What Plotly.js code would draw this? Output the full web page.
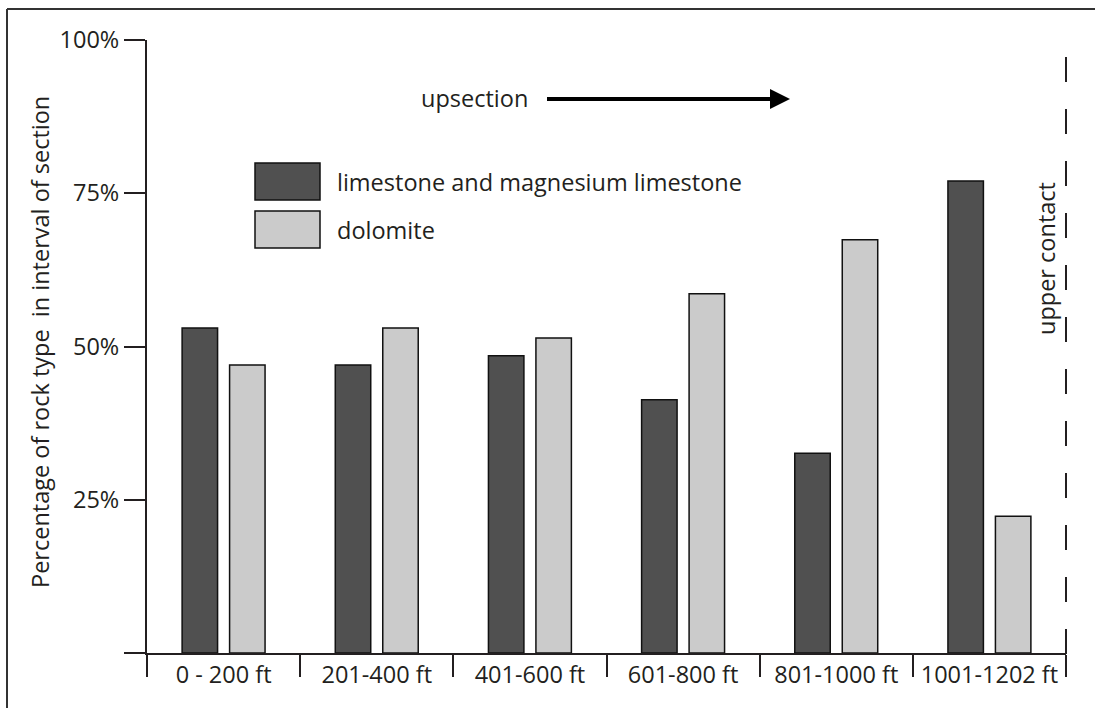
<!DOCTYPE html>
<html>
<head>
<meta charset="utf-8">
<script src="https://cdn.plot.ly/plotly-3.0.1.min.js"></script>
<style>html,body{margin:0;padding:0;background:#fff;}#chart{width:1095px;height:708px;}</style>
</head>
<body>
<div id="chart"></div>
<script>
// ---- data ----
var categories = ["0 - 200 ft", "201-400 ft", "401-600 ft", "601-800 ft", "801-1000 ft", "1001-1202 ft"];
var limestone = [53, 47, 48.5, 41.3, 32.6, 77];
var dolomite = [47, 53, 51.4, 58.6, 67.4, 22.3];
var yTickVals = [0, 25, 50, 75, 100];
var yTickText = ["", "25%", "50%", "75%", "100%"];
var seriesNames = ["limestone and magnesium limestone", "dolomite"];

var FONT = "Open Sans, Lato, sans-serif";
var FS = 23.5;
var INK = "#231f20";
var DARK = "#505050", LIGHT = "#cbcbcb";

// plot area in pixels
var L = 147, R = 1066, T = 40, B = 653;
function px(x) { return (x - L) / (R - L); }
function py(y) { return (B - y) / (B - T); }

var traces = [
  { type: "bar", name: seriesNames[0], x: categories, y: limestone,
    marker: { color: DARK, line: { color: "#111", width: 1.5 } }, hoverinfo: "x+y" },
  { type: "bar", name: seriesNames[1], x: categories, y: dolomite,
    marker: { color: LIGHT, line: { color: "#111", width: 1.5 } }, hoverinfo: "x+y" }
];

var shapes = [
  // outer frame (left and top edges)
  { type: "line", xref: "paper", yref: "paper", x0: px(7), y0: py(9), x1: px(7), y1: py(720), line: { color: "#333", width: 2 } },
  { type: "line", xref: "paper", yref: "paper", x0: px(7), y0: py(9), x1: px(1100), y1: py(9), line: { color: "#333", width: 2 } },
  // upper contact dashed line
  { type: "line", xref: "paper", yref: "paper", x0: 1, y0: py(57), x1: 1, y1: py(654), line: { color: INK, width: 2, dash: "25px,27px" } },
  // legend swatches
  { type: "rect", xref: "paper", yref: "paper", x0: px(255), y0: py(163), x1: px(320), y1: py(200), fillcolor: DARK, line: { color: "#111", width: 1.5 } },
  { type: "rect", xref: "paper", yref: "paper", x0: px(255), y0: py(211), x1: px(320), y1: py(248), fillcolor: LIGHT, line: { color: "#111", width: 1.5 } },
  // upsection arrow
  { type: "line", xref: "paper", yref: "paper", x0: px(547), y0: py(99), x1: px(773), y1: py(99), line: { color: "#000", width: 4 } },
  { type: "path", xref: "paper", yref: "paper",
    path: "M " + px(770) + " " + py(89) + " L " + px(790) + " " + py(99) + " L " + px(770) + " " + py(109) + " Z",
    fillcolor: "#000", line: { color: "#000", width: 0 } }
];

var annotations = [
  { xref: "paper", yref: "paper", x: px(40), y: py(342), text: "Percentage of rock type&nbsp; in interval of section",
    textangle: -90, showarrow: false, font: { family: FONT, size: FS, color: INK }, xanchor: "center", yanchor: "middle" },
  { xref: "paper", yref: "paper", x: px(419), y: py(98), text: "upsection", showarrow: false,
    font: { family: FONT, size: FS, color: INK }, xanchor: "left", yanchor: "middle" },
  { xref: "paper", yref: "paper", x: px(335), y: py(182), text: seriesNames[0], showarrow: false,
    font: { family: FONT, size: FS, color: INK }, xanchor: "left", yanchor: "middle" },
  { xref: "paper", yref: "paper", x: px(335), y: py(230), text: seriesNames[1], showarrow: false,
    font: { family: FONT, size: FS, color: INK }, xanchor: "left", yanchor: "middle" },
  { xref: "paper", yref: "paper", x: px(1046), y: py(259), text: "upper contact", textangle: -90, showarrow: false,
    font: { family: FONT, size: FS, color: INK }, xanchor: "center", yanchor: "middle" }
];

var layout = {
  width: 1095, height: 708,
  margin: { l: L, r: 1095 - R, t: T, b: 708 - B, pad: 0 },
  paper_bgcolor: "#fff", plot_bgcolor: "#fff",
  showlegend: false,
  barmode: "group", bargap: 0.38, bargroupgap: 0.253,
  font: { family: FONT, color: INK, size: FS },
  xaxis: {
    type: "category", range: [-0.5, 5.5], fixedrange: true,
    showline: true, linecolor: INK, linewidth: 2,
    ticks: "outside", tickson: "boundaries", ticklen: 22, tickwidth: 2, tickcolor: INK,
    showgrid: false, zeroline: false,
    tickfont: { family: FONT, size: FS, color: INK }
  },
  yaxis: {
    range: [0, 100], fixedrange: true,
    showline: true, linecolor: INK, linewidth: 2,
    ticks: "outside", ticklen: 21, tickwidth: 2, tickcolor: INK,
    tickvals: yTickVals, ticktext: yTickText,
    showgrid: false, zeroline: false,
    tickfont: { family: FONT, size: FS, color: INK }
  },
  shapes: shapes,
  annotations: annotations
};

Plotly.newPlot("chart", traces, layout, { displayModeBar: false, staticPlot: true });
</script>
</body>
</html>
